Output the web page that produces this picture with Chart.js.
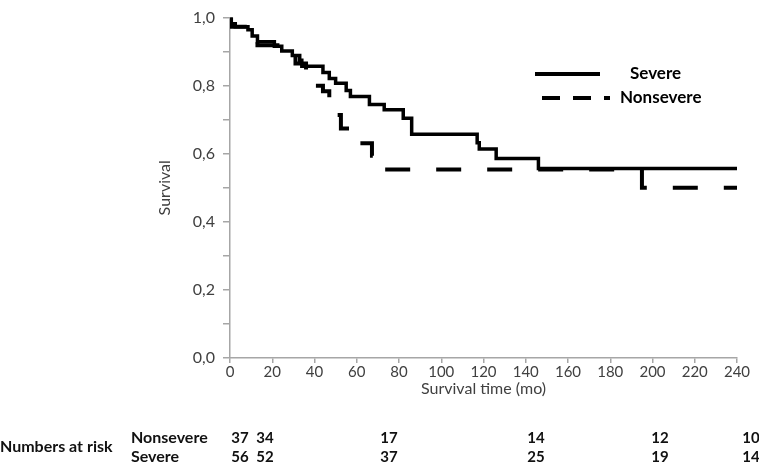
<!DOCTYPE html>
<html>
<head>
<meta charset="utf-8">
<script src="https://cdn.jsdelivr.net/npm/chart.js@4"></script>
<style>
  html, body { margin: 0; padding: 0; background: #fff; }
  #wrap { width: 759px; height: 466px; }
</style>
</head>
<body>
<div id="wrap"><canvas id="km" width="759" height="466"></canvas></div>
<script>
// Kaplan-Meier steps (months, survival)
const severeTime = [0, 0.5, 2.5, 8.5, 10.5, 13, 21, 24.5, 29.5, 33, 34, 44, 47, 50, 55, 57, 66, 73, 82, 86, 117, 118, 126, 146, 240];
const severeSurv = [1.0, 0.982, 0.973, 0.964, 0.946, 0.929, 0.916, 0.902, 0.889, 0.875, 0.857, 0.839, 0.821, 0.807, 0.786, 0.768, 0.745, 0.729, 0.704, 0.657, 0.632, 0.614, 0.586, 0.557, 0.557];

const nonsevereTime = [0, 0.5, 8.5, 13, 24.5, 31, 36, 40, 44, 47, 49, 52.5, 58, 67.2, 72, 195, 240];
const nonsevereSurv = [1.0, 0.973, 0.946, 0.919, 0.892, 0.865, 0.838, 0.80, 0.784, 0.757, 0.714, 0.674, 0.631, 0.594, 0.554, 0.50, 0.50];

const riskGroups = ["Nonsevere", "Severe"];
const riskNonsevere = [37, 34, 17, 14, 12, 10];
const riskSevere = [56, 52, 37, 25, 19, 14];

const xTicks = [0, 20, 40, 60, 80, 100, 120, 140, 160, 180, 200, 220, 240];

function pts(t, s){
	return t.map(function(v, i){ return {x: v, y: s[i]}; });
}

const txt = '#404040';
const axisCol = '#a6a6a6';

// legend + numbers at risk, drawn on top
const extras = {
	id: 'extras',
	afterDraw(chart){
		const ctx = chart.ctx;
		ctx.save();
		ctx.strokeStyle = '#000';
		ctx.lineWidth = 4;
		ctx.beginPath();
		ctx.moveTo(535, 74); ctx.lineTo(600, 74);
		ctx.stroke();
		ctx.setLineDash([18, 13]);
		ctx.beginPath();
		ctx.moveTo(542, 98); ctx.lineTo(610, 98);
		ctx.stroke();
		ctx.setLineDash([]);

		ctx.fillStyle = '#000';
		ctx.textBaseline = 'middle';
		ctx.font = 'bold 17px Lato';
		ctx.textAlign = 'left';
		ctx.fillText('Severe', 630, 74);
		ctx.fillText('Nonsevere', 620, 98);

		// numbers at risk
		ctx.fillStyle = '#111';
		ctx.font = 'bold 16px Lato';
		ctx.fillText('Numbers at risk', 0, 447);
		ctx.fillText(riskGroups[0], 131, 438);
		ctx.fillText(riskGroups[1], 131, 457);
		const cols = [240, 265, 389, 536, 660, 751];
		ctx.font = 'bold 15px Lato';
		ctx.textAlign = 'center';
		cols.forEach(function(cx, i){
			ctx.fillText(String(riskNonsevere[i]), cx, 438);
			ctx.fillText(String(riskSevere[i]), cx, 457);
		});
		ctx.restore();
	}
};

const km_ctx = document.getElementById('km').getContext('2d');
const km_config = {
	type: 'line',
	data: {
		datasets: [{
			label: 'Severe',
			data: pts(severeTime, severeSurv),
			stepped: 'before',
			borderColor: '#000',
			borderWidth: 3.5,
			pointRadius: 0,
			fill: false,
			order: 1
		},
		{
			label: 'Nonsevere',
			data: pts(nonsevereTime, nonsevereSurv),
			stepped: 'before',
			borderColor: '#000',
			borderWidth: 4,
			borderDash: [25, 26],
			borderDashOffset: -1,
			borderCapStyle: 'butt',
			pointRadius: 0,
			fill: false,
			order: 2
		}]
	},
	options: {
		responsive: false,
		animation: false,
		events: [],
		layout: { padding: { left: 155, top: 8, right: 22, bottom: 68 } },
		plugins: {
			legend: { display: false },
			tooltip: { enabled: false }
		},
		scales: {
			x: {
				type: 'linear',
				min: 0, max: 240,
				afterBuildTicks: function(scale){ scale.ticks = xTicks.map(function(v){ return {value: v}; }); },
				afterFit: function(scale){ scale.height = 40; },
				border: { color: axisCol, width: 1.5 },
				grid: { drawOnChartArea: false, drawTicks: true, tickLength: 5, color: axisCol, lineWidth: 1.5 },
				ticks: { color: txt, font: { family: 'Lato', size: 15 }, padding: 0, maxRotation: 0 },
				title: { display: true, text: 'Survival time (mo)', color: txt, font: { family: 'Lato', size: 16 }, padding: 0 }
			},
			y: {
				min: 0, max: 1,
				afterFit: function(scale){ scale.width = 75; },
				border: { color: axisCol, width: 1.5 },
				grid: { drawOnChartArea: false, drawTicks: true, tickLength: 7, color: axisCol, lineWidth: 1.5 },
				ticks: {
					stepSize: 0.1,
					color: txt,
					font: { family: 'Lato', size: 16 },
					padding: 8,
					callback: function(v){
						const k = Math.round(v * 10);
						return k % 2 === 0 ? (k / 10).toFixed(1).replace('.', ',') : '';
					}
				},
				title: { display: true, text: 'Survival', color: txt, font: { family: 'Lato', size: 16 }, padding: 0 }
			}
		}
	},
	plugins: [extras]
};
const km_chart = new Chart(km_ctx, km_config);
</script>
</body>
</html>
